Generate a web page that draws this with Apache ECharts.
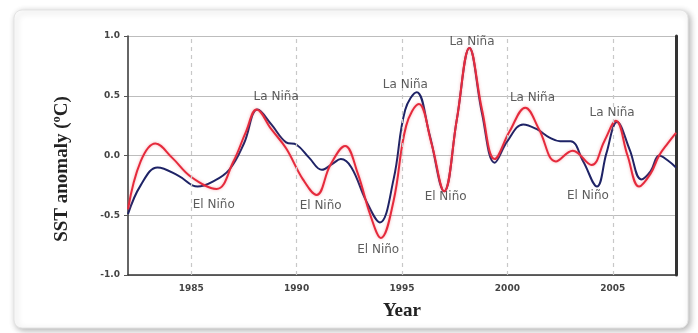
<!DOCTYPE html>
<html>
<head>
<meta charset="utf-8">
<style>
  html, body { margin: 0; padding: 0; background: #ffffff; }
  #chart { width: 698px; height: 333px; }
</style>
<script src="https://cdn.jsdelivr.net/npm/echarts@6/dist/echarts.min.js"></script>
</head>
<body>
<div id="chart"></div>
<script>
// SST anomaly series: [year, anomaly in °C]
var blueSeries = [
  [1982.0, -0.49], [1982.6, -0.25], [1983.4, -0.10], [1984.4, -0.17], [1985.3, -0.26],
  [1986.0, -0.22], [1986.8, -0.12], [1987.5, 0.10], [1988.15, 0.385], [1988.8, 0.26],
  [1989.5, 0.11], [1990.0, 0.09], [1990.6, -0.02], [1991.2, -0.12], [1991.7, -0.07],
  [1992.1, -0.03], [1992.6, -0.10], [1993.3, -0.38], [1993.95, -0.56], [1994.6, -0.20],
  [1995.15, 0.38], [1995.7, 0.53], [1996.3, 0.18], [1997.0, -0.30], [1997.6, 0.30],
  [1998.2, 0.90], [1998.8, 0.35], [1999.4, -0.06], [2000.0, 0.12], [2000.75, 0.26],
  [2001.4, 0.22], [2002.0, 0.15], [2002.5, 0.12], [2003.0, 0.12], [2003.6, -0.05],
  [2004.25, -0.26], [2004.7, 0.02], [2005.2, 0.28], [2005.8, 0.05], [2006.35, -0.20],
  [2006.8, -0.13], [2007.2, 0.00], [2007.6, -0.04], [2008.0, -0.10]
];
var redSeries = [
  [1982.0, -0.45], [1982.6, -0.05], [1983.3, 0.10], [1984.1, -0.02], [1985.0, -0.18],
  [1986.2, -0.28], [1987.0, -0.05], [1987.6, 0.20], [1988.1, 0.385], [1988.8, 0.22],
  [1989.5, 0.06], [1990.3, -0.20], [1990.95, -0.33], [1991.6, -0.08], [1992.3, 0.08],
  [1992.9, -0.15], [1993.5, -0.50], [1994.0, -0.69], [1994.6, -0.38], [1995.2, 0.25],
  [1995.8, 0.43], [1996.4, 0.10], [1997.0, -0.30], [1997.6, 0.30], [1998.2, 0.90],
  [1998.8, 0.38], [1999.4, -0.03], [2000.1, 0.20], [2000.85, 0.40], [2001.5, 0.22],
  [2002.3, -0.05], [2003.1, 0.04], [2004.0, -0.08], [2004.6, 0.12], [2005.15, 0.29],
  [2005.7, 0.00], [2006.25, -0.26], [2006.8, -0.15], [2007.2, 0.00], [2007.6, 0.10],
  [2008.0, 0.19]
];

// ENSO event annotations: [year, anomaly, text]
var events = [
  [1989.03, 0.49, 'La Niña'],
  [1986.07, -0.41, 'El Niño'],
  [1991.14, -0.42, 'El Niño'],
  [1993.87, -0.79, 'El Niño'],
  [1995.16, 0.59, 'La Niña'],
  [1998.32, 0.95, 'La Niña'],
  [1997.07, -0.35, 'El Niño'],
  [2001.19, 0.48, 'La Niña'],
  [2003.82, -0.34, 'El Niño'],
  [2004.97, 0.36, 'La Niña']
];

var yearTicks = [1985, 1990, 1995, 2000, 2005];
var yMin = -1, yMax = 1, yStep = 0.5;
var xMin = 1982, xMax = 2008;

var chart = echarts.init(document.getElementById('chart'));

chart.setOption({
  animation: false,
  backgroundColor: '#ffffff',
  graphic: [
    {
      type: 'rect',
      z: -10,
      shape: { x: 14, y: 10, width: 674, height: 318, r: 8 },
      style: {
        fill: '#ffffff',
        stroke: '#e4e4e4',
        lineWidth: 1,
        shadowBlur: 6,
        shadowOffsetX: 2,
        shadowOffsetY: 2,
        shadowColor: 'rgba(0,0,0,0.30)'
      }
    },
    {
      type: 'text',
      x: 62,
      y: 169,
      rotation: Math.PI / 2,
      style: {
        text: 'SST anomaly (ºC)',
        font: 'bold 19px "Liberation Serif", "DejaVu Serif", serif',
        fill: '#222',
        align: 'center',
        verticalAlign: 'middle'
      }
    }
  ],
  grid: { left: 128, right: 22, top: 36, bottom: 58, containLabel: false },
  xAxis: {
    type: 'value',
    min: xMin,
    max: xMax,
    name: 'Year',
    nameLocation: 'middle',
    nameGap: 27,
    nameTextStyle: {
      fontFamily: '"Liberation Serif", "DejaVu Serif", serif',
      fontWeight: 'bold',
      fontSize: 19,
      color: '#222'
    },
    axisLine: { show: true, onZero: false, lineStyle: { color: '#333', width: 1.5 } },
    axisTick: { show: true, inside: true, length: 3, customValues: yearTicks, lineStyle: { color: '#666' } },
    axisLabel: {
      customValues: yearTicks,
      margin: 9,
      formatter: function (v) { return String(v); },
      fontFamily: '"DejaVu Sans", Verdana, sans-serif',
      fontWeight: 'bold',
      fontSize: 9,
      color: '#444'
    },
    splitLine: { show: false }
  },
  yAxis: [
    {
      type: 'value',
      min: yMin,
      max: yMax,
      interval: yStep,
      axisLine: { show: true, lineStyle: { color: '#333', width: 1.5 } },
      axisTick: { show: true, length: 4, lineStyle: { color: '#555' } },
      axisLabel: {
        margin: 8,
        formatter: function (v) { return v.toFixed(1); },
        fontFamily: '"DejaVu Sans", Verdana, sans-serif',
        fontWeight: 'bold',
        fontSize: 9,
        color: '#444'
      },
      splitLine: { show: true, lineStyle: { color: '#bdbdbd', width: 1.2 } }
    },
    {
      type: 'value',
      position: 'right',
      min: yMin,
      max: yMax,
      interval: yStep,
      axisLine: { show: true, lineStyle: { color: '#333', width: 3 } },
      axisTick: { show: false },
      axisLabel: { show: false },
      splitLine: { show: false }
    }
  ],
  series: [
    {
      name: 'SST (blue)',
      type: 'line',
      data: blueSeries,
      smooth: 0.4,
      showSymbol: false,
      lineStyle: { color: '#1e2366', width: 2 },
      z: 3,
      markLine: {
        silent: true,
        symbol: 'none',
        label: { show: false },
        lineStyle: { color: '#c8c8c8', type: [4, 4], width: 1.2 },
        data: yearTicks.map(function (y) { return { xAxis: y }; })
      }
    },
    {
      name: 'SST (red)',
      type: 'line',
      data: redSeries,
      smooth: 0.4,
      showSymbol: false,
      lineStyle: {
        color: '#e52a3c',
        width: 2,
        shadowBlur: 3,
        shadowColor: 'rgba(240,90,100,0.5)'
      },
      z: 4
    },
    {
      name: 'ENSO events',
      type: 'scatter',
      symbolSize: 0,
      data: events,
      z: 5,
      label: {
        show: true,
        position: 'inside',
        formatter: function (p) { return p.data[2]; },
        fontFamily: '"DejaVu Sans", Verdana, sans-serif',
        fontSize: 12,
        color: '#333'
      }
    }
  ]
});
</script>
</body>
</html>
